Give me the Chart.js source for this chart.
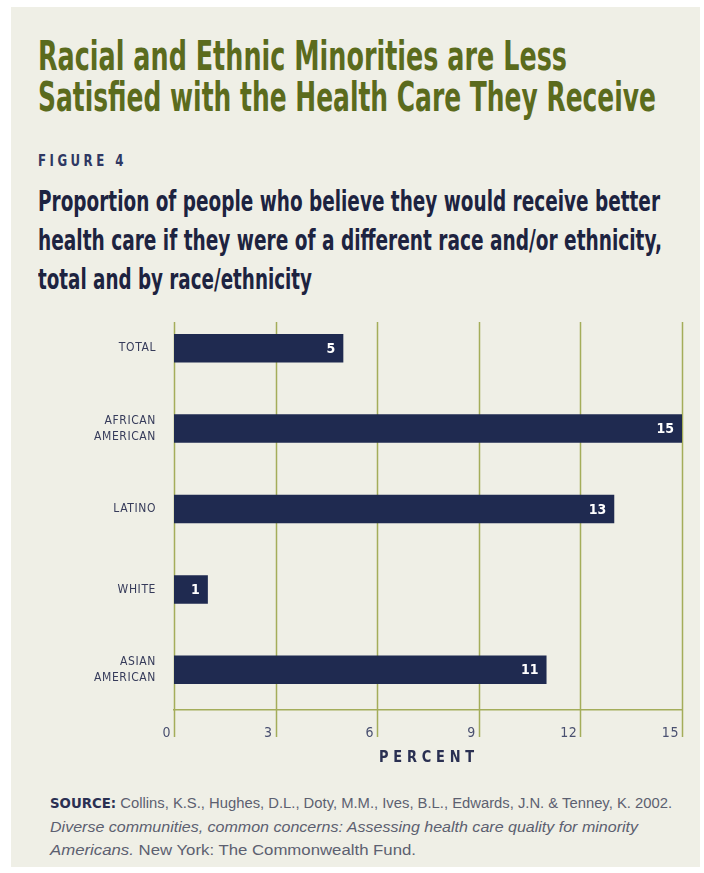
<!DOCTYPE html>
<html>
<head>
<meta charset="utf-8">
<script src="https://cdn.jsdelivr.net/npm/chart.js@4.4.1/dist/chart.umd.min.js"></script>
<style>
    body {
        margin: 0;
        width: 704px;
        height: 873px;
        background: #ffffff;
        position: relative;
        overflow: hidden;
        font-family: "Liberation Sans Narrow", "DejaVu Sans Condensed", "Liberation Sans", sans-serif;
    }
    #panel {
        position: absolute;
        left: 11px;
        top: 7px;
        width: 689px;
        height: 860px;
        background: #efefe6;
    }
    .t {
        position: absolute;
        left: 38px;
        width: max-content;
        white-space: nowrap;
        transform-origin: 0 0;
    }
    .title {
        font-size: 40px;
        line-height: 41px;
        font-weight: bold;
        color: #5b6b1d;
    }
    .fig {
        font-size: 15px;
        line-height: 15px;
        font-weight: bold;
        letter-spacing: 4px;
        color: #2f3863;
    }
    .sub {
        font-size: 29px;
        line-height: 29px;
        font-weight: bold;
        color: #1d2340;
    }
    .src {
        left: 50px;
        font-family: "Liberation Sans", sans-serif;
        font-size: 14px;
        line-height: 14px;
        color: #5c6070;
    }
    .src b {
        font-family: "Liberation Sans Narrow", "DejaVu Sans Condensed", sans-serif;
        color: #2a3052;
    }
    .axis-title {
        left: 379px;
        font-size: 15px;
        line-height: 15px;
        font-weight: bold;
        letter-spacing: 5px;
        color: #2a3052;
    }
    #chartBox {
        position: absolute;
        left: 0;
        top: 290px;
        width: 704px;
        height: 480px;
    }
</style>
</head>
<body>
<div id="panel"></div>

<div class="t title fit" data-w="529" style="top:36px">Racial and Ethnic Minorities are Less</div>
<div class="t title fit" data-w="618" style="top:77px">Satisfied with the Health Care They Receive</div>

<div class="t fig fit" data-w="89" style="top:154px">FIGURE 4</div>
<div class="t sub fit" data-w="622" style="top:187px">Proportion of people who believe they would receive better</div>
<div class="t sub fit" data-w="624" style="top:226px">health care if they were of a different race and/or ethnicity,</div>
<div class="t sub fit" data-w="274" style="top:265px">total and by race/ethnicity</div>

<div id="chartBox"><canvas id="barChart"></canvas></div>

<div class="t axis-title fit" data-w="100" style="top:750px">PERCENT</div>

<div class="t src fit" data-w="622" style="top:796px"><b>SOURCE:</b> Collins, K.S., Hughes, D.L., Doty, M.M., Ives, B.L., Edwards, J.N. &amp; Tenney, K. 2002.</div>
<div class="t src fit" data-w="588" style="top:820px"><i>Diverse communities, common concerns: Assessing health care quality for minority</i></div>
<div class="t src fit" data-w="366" style="top:843px"><i>Americans.</i> New York: The Commonwealth Fund.</div>

<script>
//chart data
const categories = [['TOTAL'], ['AFRICAN', 'AMERICAN'], ['LATINO'], ['WHITE'], ['ASIAN', 'AMERICAN']];
const percentValues = [5, 15, 13, 1, 11];
const xTickValues = [0, 3, 6, 9, 12, 15];

const gridColor = '#a4ad5a';
const barColor = '#1f2a50';
const chartFont = '"Liberation Sans Narrow", "DejaVu Sans Condensed", "Liberation Sans", sans-serif';

//squeeze the html text lines to the widths of the original
function fitLines() {
    document.querySelectorAll('.fit').forEach(el => {
        el.style.transform = 'none';
        const target = parseFloat(el.dataset.w);
        const actual = el.getBoundingClientRect().width;
        if (actual > 0) {
            el.style.transform = `scaleX(${target / actual})`;
        }
    });
}

//vertical grid lines, start a bit below the top and run through the tick marks
const gridPlugin = {
    id: 'gridLines',
    beforeDraw(chart) {
        chart.ctx.letterSpacing = '0.6px';
    },
    beforeDatasetsDraw(chart) {
        const ctx = chart.ctx;
        const xScale = chart.scales.x;
        const area = chart.chartArea;
        ctx.save();
        ctx.strokeStyle = gridColor;
        ctx.lineWidth = 1.5;
        xTickValues.forEach(v => {
            const x = Math.round(xScale.getPixelForValue(v)) + 0.5;
            ctx.beginPath();
            ctx.moveTo(x, area.top + 14);
            ctx.lineTo(x, area.bottom + 27);
            ctx.stroke();
        });
        ctx.restore();
    }
};

//white value labels at the end of each bar
const valueLabelPlugin = {
    id: 'valueLabels',
    afterDatasetsDraw(chart) {
        const ctx = chart.ctx;
        const meta = chart.getDatasetMeta(0);
        ctx.save();
        ctx.letterSpacing = '0px';
        ctx.fillStyle = '#ffffff';
        ctx.font = 'bold 14px ' + chartFont;
        ctx.textAlign = 'right';
        ctx.textBaseline = 'middle';
        meta.data.forEach((bar, i) => {
            ctx.fillText(String(percentValues[i]), bar.x - 8, bar.y + 1);
        });
        ctx.restore();
    }
};

const ctx = document.getElementById('barChart').getContext('2d');
const barChart = new Chart(ctx, {
    type: 'bar',
    data: {
        labels: categories,
        datasets: [{
            data: percentValues,
            backgroundColor: barColor,
            borderWidth: 0,
            categoryPercentage: 1,
            barPercentage: 0.355
        }]
    },
    options: {
        indexAxis: 'y',
        responsive: true,
        maintainAspectRatio: false,
        animation: false,
        layout: {
            padding: { top: 18, right: 22, left: 0, bottom: 0 }
        },
        plugins: {
            legend: { display: false },
            tooltip: { enabled: false }
        },
        scales: {
            x: {
                type: 'linear',
                min: 0,
                max: 15,
                grid: { display: false },
                border: { display: true, color: gridColor, width: 1.5 },
                ticks: {
                    stepSize: 3,
                    align: 'end',
                    labelOffset: -3,
                    padding: 7,
                    color: '#4a5070',
                    font: { family: chartFont, size: 14 }
                },
                afterFit(scale) {
                    scale.height = 60;
                    scale.paddingLeft = 0;
                    scale.paddingRight = 0;
                }
            },
            y: {
                grid: { display: false },
                border: { display: false },
                ticks: {
                    padding: 10,
                    color: '#363b5a',
                    font: { family: chartFont, size: 12, lineHeight: 1.3 }
                },
                afterFit(scale) {
                    scale.width = 174;
                    scale.paddingTop = 0;
                    scale.paddingBottom = 0;
                }
            }
        }
    },
    plugins: [gridPlugin, valueLabelPlugin]
});

fitLines();
if (document.fonts && document.fonts.ready) {
    document.fonts.ready.then(fitLines);
}
</script>
</body>
</html>
